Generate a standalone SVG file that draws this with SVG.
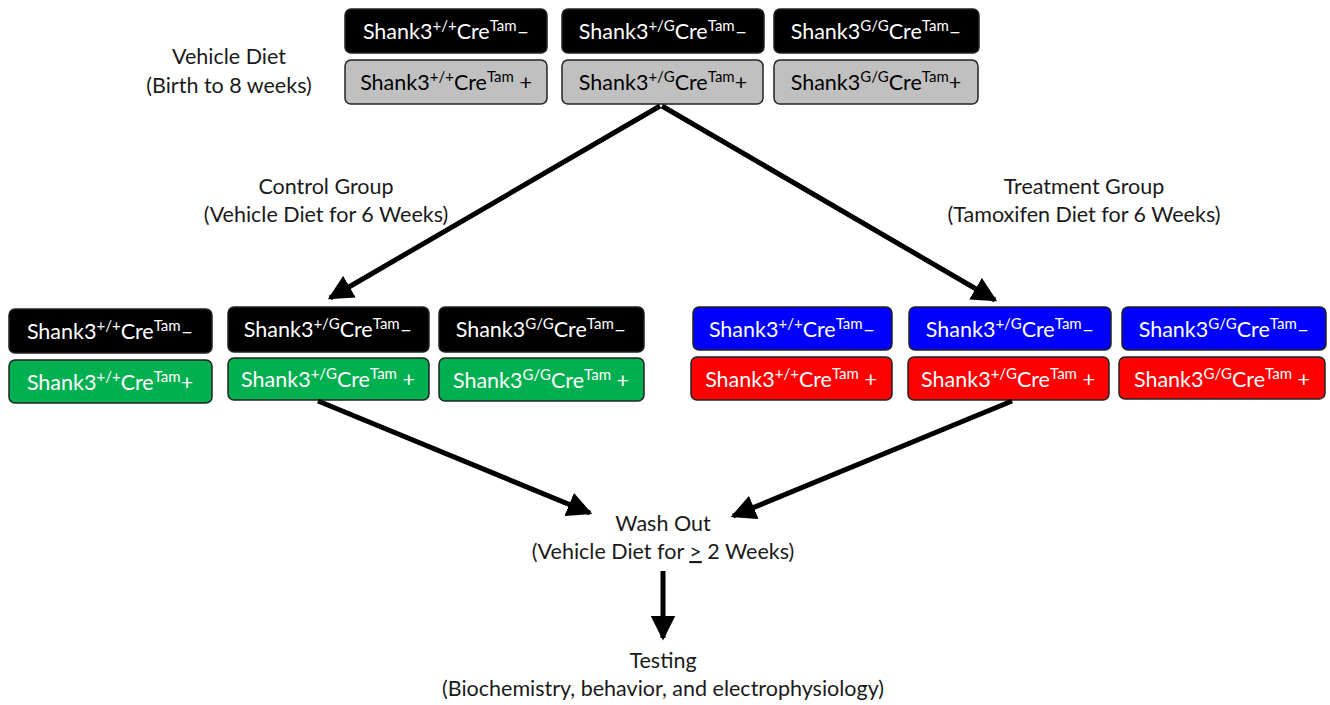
<svg xmlns="http://www.w3.org/2000/svg" width="1330" height="705" viewBox="0 0 1330 705">
<defs>
<style>
.box{stroke:#222;stroke-width:1.5}
.k{fill:#000}.g{fill:#c0c0c0}.gr{fill:#00b050}.b{fill:#0000ff}.r{fill:#ff0000}
.t{font-family:Lato,"Open Sans","Liberation Sans",sans-serif;font-size:21.5px;text-anchor:middle}
.w{fill:#fff}.d{fill:#000}
.lbl{font-family:Lato,"Open Sans","Liberation Sans",sans-serif;font-size:21.5px;text-anchor:middle;fill:#1a1a1a}
.arr{stroke:#000;stroke-width:5;fill:none;marker-end:url(#ah)}
</style>
<marker id="ah" viewBox="0 0 10 10" refX="9" refY="5" markerWidth="5" markerHeight="5" orient="auto" markerUnits="strokeWidth">
<path d="M0,0 L10,5 L0,10 z" fill="#000"/>
</marker>
</defs>
<rect width="1330" height="705" fill="#fff"/>

<g id="labels">
<text class="lbl" x="229" y="64">Vehicle Diet</text>
<text class="lbl" x="229" y="93">(Birth to 8 weeks)</text>
<text class="lbl" x="326" y="194">Control Group</text>
<text class="lbl" x="326" y="222">(Vehicle Diet for 6 Weeks)</text>
<text class="lbl" x="1084" y="194">Treatment Group</text>
<text class="lbl" x="1084" y="222">(Tamoxifen Diet for 6 Weeks)</text>
</g>

<g id="washout">
<text class="lbl" x="663" y="531">Wash Out</text>
<text class="lbl" x="663" y="559">(Vehicle Diet for <tspan text-decoration="underline">&gt;</tspan> 2 Weeks)</text>
</g>
<g id="testing">
<text class="lbl" x="663" y="668">Testing</text>
<text class="lbl" x="663" y="696">(Biochemistry, behavior, and electrophysiology)</text>
</g>

<g id="n-top-1"><rect class="box k" x="345" y="9" width="202" height="44" rx="6"/><text class="t w" x="446" y="39">Shank3<tspan font-size="15" dy="-8">+/+</tspan><tspan dy="8">Cre</tspan><tspan font-size="15" dy="-8">Tam</tspan><tspan dy="8">–</tspan></text></g>
<g id="n-top-2"><rect class="box k" x="562" y="9" width="202" height="44" rx="6"/><text class="t w" x="663" y="39">Shank3<tspan font-size="15" dy="-8">+/G</tspan><tspan dy="8">Cre</tspan><tspan font-size="15" dy="-8">Tam</tspan><tspan dy="8">–</tspan></text></g>
<g id="n-top-3"><rect class="box k" x="774" y="9" width="205" height="44" rx="6"/><text class="t w" x="876" y="39">Shank3<tspan font-size="15" dy="-8">G/G</tspan><tspan dy="8">Cre</tspan><tspan font-size="15" dy="-8">Tam</tspan><tspan dy="8">–</tspan></text></g>
<g id="n-top-4"><rect class="box g" x="345" y="60" width="202" height="44" rx="6"/><text class="t d" x="446" y="90">Shank3<tspan font-size="15" dy="-8">+/+</tspan><tspan dy="8">Cre</tspan><tspan font-size="15" dy="-8">Tam</tspan><tspan dy="8"> +</tspan></text></g>
<g id="n-top-5"><rect class="box g" x="562" y="60" width="201" height="44" rx="6"/><text class="t d" x="663" y="90">Shank3<tspan font-size="15" dy="-8">+/G</tspan><tspan dy="8">Cre</tspan><tspan font-size="15" dy="-8">Tam</tspan><tspan dy="8">+</tspan></text></g>
<g id="n-top-6"><rect class="box g" x="774" y="60" width="204" height="44" rx="6"/><text class="t d" x="876" y="90">Shank3<tspan font-size="15" dy="-8">G/G</tspan><tspan dy="8">Cre</tspan><tspan font-size="15" dy="-8">Tam</tspan><tspan dy="8">+</tspan></text></g>

<g id="n-ctl-1"><rect class="box k" x="9" y="309" width="203" height="44" rx="6"/><text class="t w" x="110" y="339">Shank3<tspan font-size="15" dy="-8">+/+</tspan><tspan dy="8">Cre</tspan><tspan font-size="15" dy="-8">Tam</tspan><tspan dy="8">–</tspan></text></g>
<g id="n-ctl-2"><rect class="box k" x="228" y="307" width="201" height="45" rx="6"/><text class="t w" x="328" y="337">Shank3<tspan font-size="15" dy="-8">+/G</tspan><tspan dy="8">Cre</tspan><tspan font-size="15" dy="-8">Tam</tspan><tspan dy="8">–</tspan></text></g>
<g id="n-ctl-3"><rect class="box k" x="439" y="307" width="205" height="45" rx="6"/><text class="t w" x="541" y="337">Shank3<tspan font-size="15" dy="-8">G/G</tspan><tspan dy="8">Cre</tspan><tspan font-size="15" dy="-8">Tam</tspan><tspan dy="8">–</tspan></text></g>
<g id="n-ctl-4"><rect class="box gr" x="9" y="360" width="203" height="43" rx="6"/><text class="t w" x="110" y="390">Shank3<tspan font-size="15" dy="-8">+/+</tspan><tspan dy="8">Cre</tspan><tspan font-size="15" dy="-8">Tam</tspan><tspan dy="8">+</tspan></text></g>
<g id="n-ctl-5"><rect class="box gr" x="228" y="358" width="201" height="42" rx="6"/><text class="t w" x="328" y="387">Shank3<tspan font-size="15" dy="-8">+/G</tspan><tspan dy="8">Cre</tspan><tspan font-size="15" dy="-8">Tam</tspan><tspan dy="8"> +</tspan></text></g>
<g id="n-ctl-6"><rect class="box gr" x="439" y="358" width="205" height="43" rx="6"/><text class="t w" x="541" y="388">Shank3<tspan font-size="15" dy="-8">G/G</tspan><tspan dy="8">Cre</tspan><tspan font-size="15" dy="-8">Tam</tspan><tspan dy="8"> +</tspan></text></g>

<g id="n-trt-1"><rect class="box b" x="693" y="307" width="199" height="43" rx="6"/><text class="t w" x="792" y="337">Shank3<tspan font-size="15" dy="-8">+/+</tspan><tspan dy="8">Cre</tspan><tspan font-size="15" dy="-8">Tam</tspan><tspan dy="8">–</tspan></text></g>
<g id="n-trt-2"><rect class="box b" x="909" y="307" width="202" height="43" rx="6"/><text class="t w" x="1010" y="337">Shank3<tspan font-size="15" dy="-8">+/G</tspan><tspan dy="8">Cre</tspan><tspan font-size="15" dy="-8">Tam</tspan><tspan dy="8">–</tspan></text></g>
<g id="n-trt-3"><rect class="box b" x="1122" y="307" width="204" height="43" rx="6"/><text class="t w" x="1224" y="337">Shank3<tspan font-size="15" dy="-8">G/G</tspan><tspan dy="8">Cre</tspan><tspan font-size="15" dy="-8">Tam</tspan><tspan dy="8">–</tspan></text></g>
<g id="n-trt-4"><rect class="box r" x="691" y="357" width="201" height="43" rx="6"/><text class="t w" x="791" y="387">Shank3<tspan font-size="15" dy="-8">+/+</tspan><tspan dy="8">Cre</tspan><tspan font-size="15" dy="-8">Tam</tspan><tspan dy="8"> +</tspan></text></g>
<g id="n-trt-5"><rect class="box r" x="908" y="357" width="201" height="43" rx="6"/><text class="t w" x="1008" y="387">Shank3<tspan font-size="15" dy="-8">+/G</tspan><tspan dy="8">Cre</tspan><tspan font-size="15" dy="-8">Tam</tspan><tspan dy="8"> +</tspan></text></g>
<g id="n-trt-6"><rect class="box r" x="1119" y="357" width="206" height="42" rx="6"/><text class="t w" x="1222" y="387">Shank3<tspan font-size="15" dy="-8">G/G</tspan><tspan dy="8">Cre</tspan><tspan font-size="15" dy="-8">Tam</tspan><tspan dy="8"> +</tspan></text></g>

<g id="connectors">
<line class="arr" x1="660" y1="106" x2="330" y2="298"/>
<line class="arr" x1="662" y1="106" x2="995" y2="300"/>
<line class="arr" x1="318" y1="401" x2="590" y2="513"/>
<line class="arr" x1="1012" y1="401" x2="733" y2="516"/>
<line class="arr" x1="663" y1="571" x2="663" y2="638"/>
</g>
</svg>
